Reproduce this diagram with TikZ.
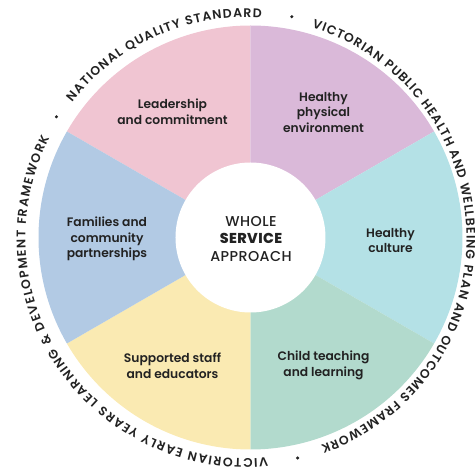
\documentclass[tikz,border=0pt]{standalone}
\usepackage{fontspec}
\setmainfont{Poppins}
\newfontfamily\semib{Poppins SemiBold}
\newfontfamily\medf{Poppins Medium}
\usetikzlibrary{decorations.text}

\definecolor{pinkS}{HTML}{F0C5D2}
\definecolor{purpleS}{HTML}{DAB9D9}
\definecolor{cyanS}{HTML}{B4E1E6}
\definecolor{greenS}{HTML}{B2DACD}
\definecolor{yellowS}{HTML}{FAEAB2}
\definecolor{blueS}{HTML}{B2CAE4}
\definecolor{ink}{HTML}{222222}

\tikzset{
  seglabel/.style={align=center, text=ink, inner sep=0pt,
      font=\semib\fontsize{12.3}{15.5}\selectfont},
  ringtext/.style={decorate, decoration={text along path, text align={fit to path},
      text={|\semib\fontsize{12.5}{14}\selectfont\color{ink}|#1}}},
  ringdot/.style={fill=ink, draw=none}
}

\begin{document}
\begin{tikzpicture}[x=1pt,y=1pt]
\useasboundingbox (-250.5,-233.5) rectangle (224.5,237.5);

% six coloured sectors of the wheel
\def\R{212}
\foreach \a/\b/\c in {90/150/pinkS, 30/90/purpleS, -30/30/cyanS,
                      -90/-30/greenS, -150/-90/yellowS, 150/210/blueS}{
  \fill[\c] (0,0) -- (\a:\R) arc[start angle=\a, end angle=\b, radius=\R] -- cycle;
}

% central hub
\fill[white] (0,0) circle[radius=75];
\node[align=center, text=ink, inner sep=0pt,
      font=\medf\addfontfeatures{LetterSpace=3}\fontsize{14.3}{17.5}\selectfont] (hub) at (0.5,-1.5)
  {WHOLE\\{\bfseries\addfontfeatures{LetterSpace=3}SERVICE}\\APPROACH};

% sector labels
\node[seglabel] (lead) at (-78,126) {Leadership\\and commitment};
\node[seglabel] (phys) at (73,125) {Healthy\\physical\\environment};
\node[seglabel] (cult) at (140,-3) {Healthy\\culture};
\node[seglabel] (fam) at (-143.5,-1.5) {Families and\\community\\partnerships};
\node[seglabel] (staff) at (-78,-128.5) {Supported staff\\and educators};
\node[seglabel] (child) at (73,-128) {Child teaching\\and learning};

% frameworks written round the rim, clockwise
\begin{scope}[shift={(-4.5,-0.5)}]
  \path[ringtext={NATIONAL QUALITY STANDARD}]
    (142:220.5) arc[start angle=142, end angle=86, radius=220.5];
  \path[ringtext={VICTORIAN PUBLIC HEALTH AND WELLBEING PLAN AND OUTCOMES FRAMEWORK}]
    (72.6:220.5) arc[start angle=72.6, end angle=-70.2, radius=220.5];
  \path[ringtext={VICTORIAN EARLY YEARS LEARNING {\&} DEVELOPMENT FRAMEWORK}]
    (-84.4:220.5) arc[start angle=275.6, end angle=153, radius=220.5];

  % separators between the frameworks
  \fill[ringdot] (147.4:225) circle[radius=1.7];
  \fill[ringdot] (78.3:226) circle[radius=1.7];
  \fill[ringdot] (-76.8:226) circle[radius=1.7];
\end{scope}
\end{tikzpicture}
\end{document}
